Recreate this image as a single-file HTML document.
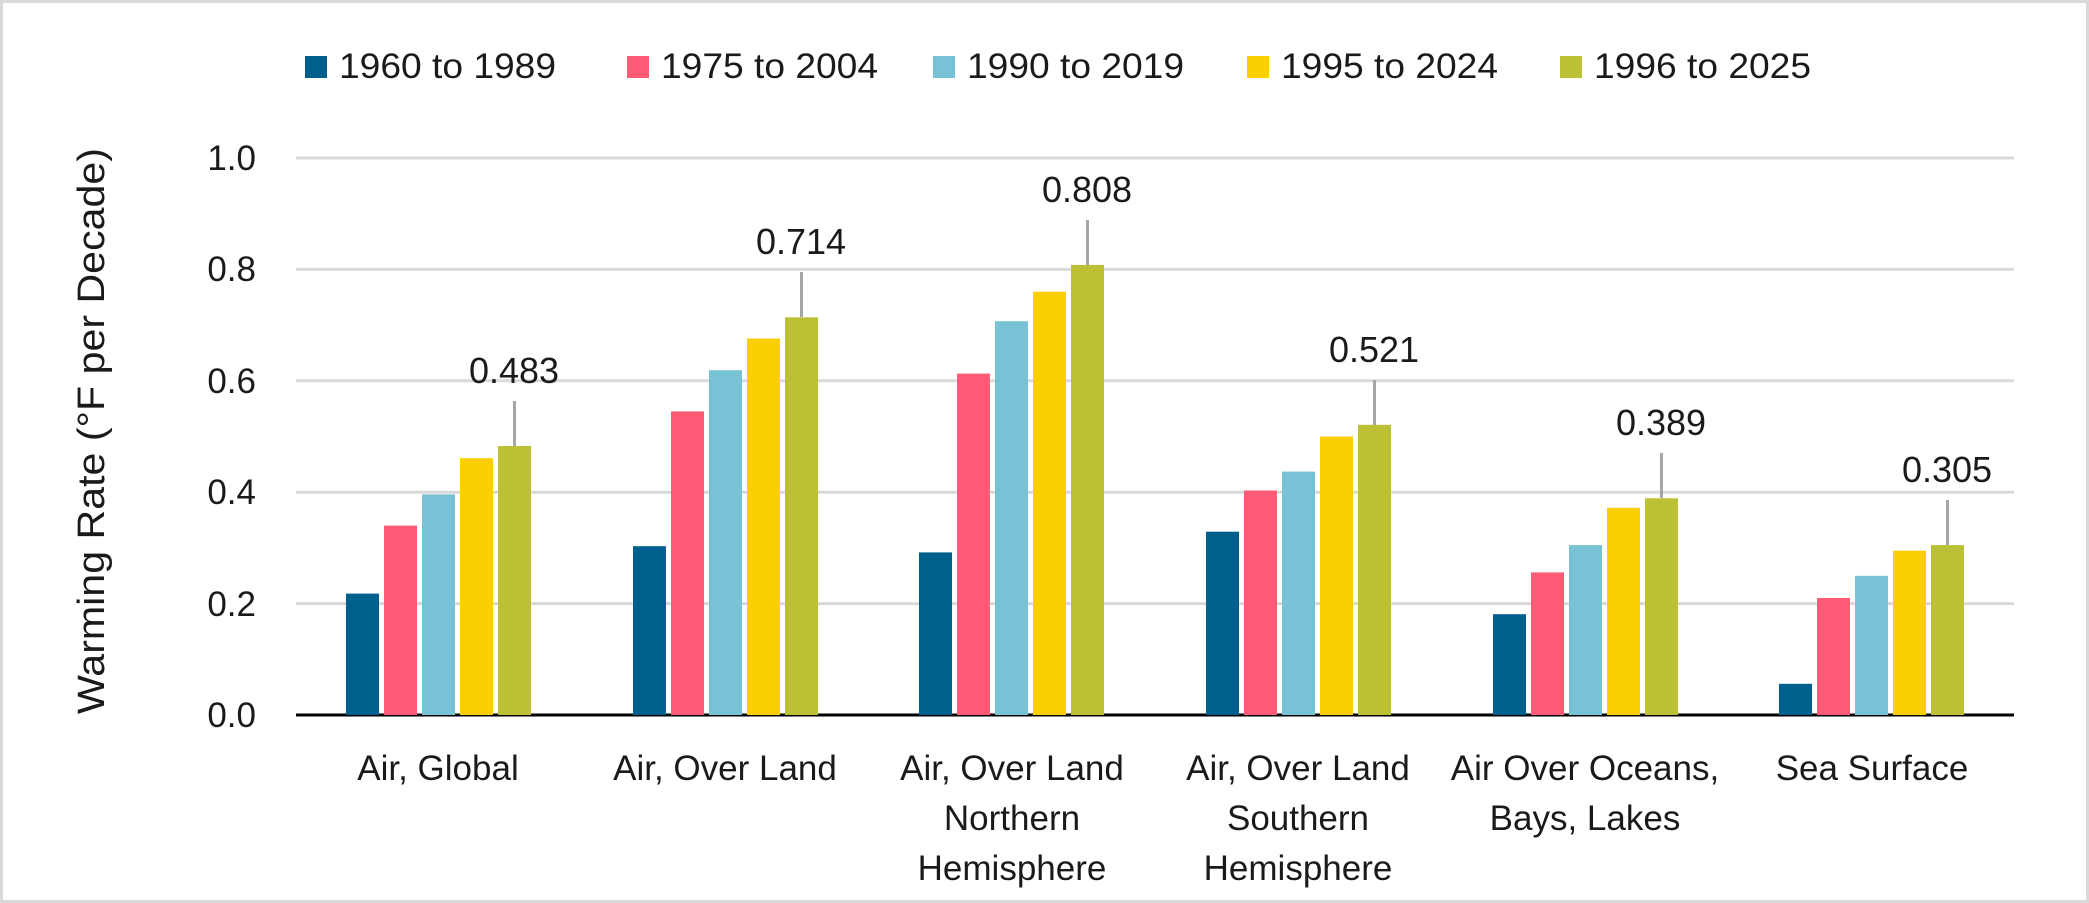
<!DOCTYPE html>
<html><head><meta charset="utf-8"><style>
html,body{margin:0;padding:0;background:#fff}
svg{display:block}
text{font-family:"Liberation Sans",Arial,sans-serif;fill:#1a1a1a}
</style></head><body>
<svg width="2089" height="903" viewBox="0 0 2089 903" xmlns="http://www.w3.org/2000/svg">
<rect x="1.5" y="1.5" width="2086" height="900" fill="#fff" stroke="#d9d9d9" stroke-width="3"/>
<!-- legend -->
<g font-size="35">
<rect x="305" y="56" width="22" height="22" fill="#00608d"/><text x="339" y="78" textLength="217" lengthAdjust="spacingAndGlyphs">1960 to 1989</text>
<rect x="627" y="56" width="22" height="22" fill="#ff5a76"/><text x="661" y="78" textLength="217" lengthAdjust="spacingAndGlyphs">1975 to 2004</text>
<rect x="933" y="56" width="22" height="22" fill="#77c3d5"/><text x="967" y="78" textLength="217" lengthAdjust="spacingAndGlyphs">1990 to 2019</text>
<rect x="1247" y="56" width="22" height="22" fill="#fccf05"/><text x="1281" y="78" textLength="217" lengthAdjust="spacingAndGlyphs">1995 to 2024</text>
<rect x="1560" y="56" width="22" height="22" fill="#bcc034"/><text x="1594" y="78" textLength="217" lengthAdjust="spacingAndGlyphs">1996 to 2025</text>
</g>
<!-- gridlines -->
<g stroke="#d9d9d9" stroke-width="3">
<line x1="296" x2="2014" y1="158" y2="158"/>
<line x1="296" x2="2014" y1="269.4" y2="269.4"/>
<line x1="296" x2="2014" y1="380.8" y2="380.8"/>
<line x1="296" x2="2014" y1="492.2" y2="492.2"/>
<line x1="296" x2="2014" y1="603.6" y2="603.6"/>
</g>
<g font-size="35" text-anchor="end">
<text x="256" y="170">1.0</text>
<text x="256" y="281">0.8</text>
<text x="256" y="393">0.6</text>
<text x="256" y="504">0.4</text>
<text x="256" y="616">0.2</text>
<text x="256" y="727">0.0</text>
</g>
<text font-size="38" text-anchor="middle" textLength="566" lengthAdjust="spacingAndGlyphs" transform="translate(104,431) rotate(-90)">Warming Rate (°F per Decade)</text>
<line x1="296" x2="2014" y1="715" y2="715" stroke="#000" stroke-width="3"/>
<g font-size="35" text-anchor="middle">
<text x="438" y="780">Air, Global</text>
<text x="725" y="780">Air, Over Land</text>
<text x="1012" y="780">Air, Over Land</text><text x="1012" y="830">Northern</text><text x="1012" y="880">Hemisphere</text>
<text x="1298" y="780">Air, Over Land</text><text x="1298" y="830">Southern</text><text x="1298" y="880">Hemisphere</text>
<text x="1585" y="780">Air Over Oceans,</text><text x="1585" y="830">Bays, Lakes</text>
<text x="1872" y="780">Sea Surface</text>
</g>
<g>
<rect x="346" y="593.6" width="33" height="121.4" fill="#00608d"/>
<rect x="384" y="525.6" width="33" height="189.4" fill="#ff5a76"/>
<rect x="422" y="494.4" width="33" height="220.6" fill="#77c3d5"/>
<rect x="460" y="458.2" width="33" height="256.8" fill="#fccf05"/>
<rect x="498" y="446" width="33" height="269" fill="#bcc034"/>
<rect x="633" y="546.2" width="33" height="168.8" fill="#00608d"/>
<rect x="671" y="411.4" width="33" height="303.6" fill="#ff5a76"/>
<rect x="709" y="370.2" width="33" height="344.8" fill="#77c3d5"/>
<rect x="747" y="338.5" width="33" height="376.5" fill="#fccf05"/>
<rect x="785" y="317.3" width="33" height="397.7" fill="#bcc034"/>
<rect x="919" y="552.4" width="33" height="162.6" fill="#00608d"/>
<rect x="957" y="373.6" width="33" height="341.4" fill="#ff5a76"/>
<rect x="995" y="321.2" width="33" height="393.8" fill="#77c3d5"/>
<rect x="1033" y="291.7" width="33" height="423.3" fill="#fccf05"/>
<rect x="1071" y="264.9" width="33" height="450.1" fill="#bcc034"/>
<rect x="1206" y="531.7" width="33" height="183.3" fill="#00608d"/>
<rect x="1244" y="490.5" width="33" height="224.5" fill="#ff5a76"/>
<rect x="1282" y="471.6" width="33" height="243.4" fill="#77c3d5"/>
<rect x="1320" y="436.5" width="33" height="278.5" fill="#fccf05"/>
<rect x="1358" y="424.8" width="33" height="290.2" fill="#bcc034"/>
<rect x="1493" y="614.2" width="33" height="100.8" fill="#00608d"/>
<rect x="1531" y="572.4" width="33" height="142.6" fill="#ff5a76"/>
<rect x="1569" y="545.1" width="33" height="169.9" fill="#77c3d5"/>
<rect x="1607" y="507.8" width="33" height="207.2" fill="#fccf05"/>
<rect x="1645" y="498.3" width="33" height="216.7" fill="#bcc034"/>
<rect x="1779" y="683.8" width="33" height="31.2" fill="#00608d"/>
<rect x="1817" y="598" width="33" height="117" fill="#ff5a76"/>
<rect x="1855" y="575.8" width="33" height="139.2" fill="#77c3d5"/>
<rect x="1893" y="550.7" width="33" height="164.3" fill="#fccf05"/>
<rect x="1931" y="545.1" width="33" height="169.9" fill="#bcc034"/>
</g>
<g stroke="#a6a6a6" stroke-width="3">
<line x1="514.5" x2="514.5" y1="401" y2="446"/>
<line x1="801.5" x2="801.5" y1="272" y2="317"/>
<line x1="1087.5" x2="1087.5" y1="220" y2="265"/>
<line x1="1374.5" x2="1374.5" y1="380" y2="425"/>
<line x1="1661.5" x2="1661.5" y1="453" y2="498"/>
<line x1="1947.5" x2="1947.5" y1="500" y2="545"/>
</g>
<g font-size="36" text-anchor="middle">
<text x="514" y="383">0.483</text>
<text x="801" y="254">0.714</text>
<text x="1087" y="202">0.808</text>
<text x="1374" y="362">0.521</text>
<text x="1661" y="435">0.389</text>
<text x="1947" y="482">0.305</text>
</g>
</svg>
</body></html>
